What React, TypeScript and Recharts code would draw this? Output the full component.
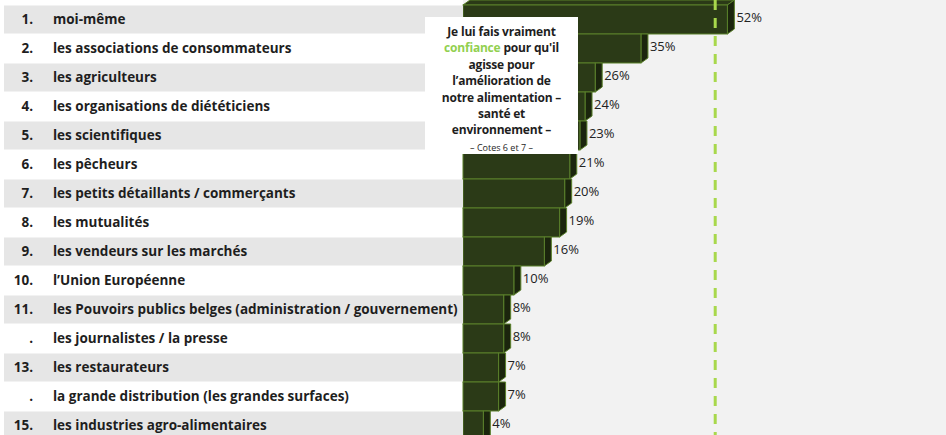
import { BarChart, Bar, XAxis, YAxis, LabelList, ReferenceLine } from 'recharts'

const RANKS = ['1.', '2.', '3.', '4.', '5.', '6.', '7.', '8.', '9.', '10.', '11.', '.', '13.', '.', '15.']
const LABELS = [
  'moi-même',
  'les associations de consommateurs',
  'les agriculteurs',
  'les organisations de diététiciens',
  'les scientifiques',
  'les pêcheurs',
  'les petits détaillants / commerçants',
  'les mutualités',
  'les vendeurs sur les marchés',
  'l’Union Européenne',
  'les Pouvoirs publics belges (administration / gouvernement)',
  'les journalistes / la presse',
  'les restaurateurs',
  'la grande distribution (les grandes surfaces)',
  'les industries agro-alimentaires',
]
const VALUES = [52, 35, 26, 24, 23, 21, 20, 19, 16, 10, 8, 8, 7, 7, 4]
const MARKER = 50

const data = LABELS.map((label, i) => ({ label, rank: RANKS[i], value: VALUES[i], first: i === 0 }))

const FONT = '"Open Sans", "Noto Sans", sans-serif'
const W = 946
const H = 435
const LEFT = 463
const ROW = 29

function RowTick({ y, payload, index }: any) {
  const i = payload?.index ?? index
  return (
    <g>
      {i % 2 === 0 && <rect x={4} y={y - ROW / 2 + 0.5} width={LEFT - 4} height={ROW - 1} fill="#e6e6e6" />}
      <text x={33} y={y} dy={4.5} textAnchor="end" fontSize={13.5} fontWeight={700} fill="#1e1e1e" fontFamily={FONT}>{RANKS[i]}</text>
      <text x={53} y={y} dy={4.5} fontSize={13.5} fontWeight={700} fill="#1e1e1e" fontFamily={FONT}>{payload.value}</text>
    </g>
  )
}

function Bar3D({ x, y, width, height, payload }: any) {
  const d = 7, e = 5
  const r = x + width
  return (
    <g>
      {payload?.first && (
        <polygon points={`${x},${y} ${x + d},${y - e} ${r + d},${y - e} ${r},${y}`} fill="#2b3a17" stroke="#5a802b" strokeWidth={1} />
      )}
      <polygon
        points={payload?.first
          ? `${r},${y} ${r + d},${y - e} ${r + d},${y + height - e} ${r},${y + height}`
          : `${r},${y} ${r + d},${y} ${r + d},${y + height - e} ${r},${y + height}`}
        fill="#1b250d" stroke="#5a802b" strokeWidth={1}
      />
      <rect x={x} y={y} width={width} height={height} fill="#2b3a17" stroke="#5a802b" strokeWidth={1} />
    </g>
  )
}

export default function App() {
  return (
    <div style={{ position: 'absolute', left: 0, top: 0, width: W, height: H, overflow: 'hidden', background: '#fff' }}>
      <div style={{ position: 'absolute', left: LEFT, top: 0, width: W - LEFT, height: H, background: '#f2f2f2' }} />
      <div style={{ position: 'absolute', left: 0, top: 0 }}>
        <BarChart width={W} height={445} data={data} layout="vertical" barCategoryGap={0} margin={{ top: 5, right: 0, bottom: 5, left: 0 }}>
          <XAxis type="number" domain={[0, 95]} hide />
          <YAxis type="category" dataKey="label" width={LEFT} tick={<RowTick />} tickLine={false} axisLine={false} interval={0} />
          <Bar dataKey="value" shape={<Bar3D />} isAnimationActive={false}>
            <LabelList
              dataKey="value"
              content={(p: any) => (
                <text x={p.x + p.width + 9} y={p.y + p.height / 2} dy={2} fontSize={13} fill="#222" fontFamily={FONT}>{p.value}%</text>
              )}
            />
          </Bar>
          <ReferenceLine
            x={MARKER}
            shape={(p: any) => <line x1={p.x1 - 2} x2={p.x2 - 2} y1={0} y2={H} stroke="#a8d84c" strokeWidth={3} strokeDasharray="10 8" />}
          />
        </BarChart>
      </div>
      <div style={{
        position: 'absolute', left: 425, top: 17, width: 153, height: 137, background: '#fff',
        fontFamily: FONT, fontWeight: 700, fontSize: 12, lineHeight: '16.4px', color: '#1e1e1e',
        textAlign: 'center', paddingTop: 7, boxSizing: 'border-box', letterSpacing: -0.2,
      }}>
        Je lui fais vraiment<br />
        <span style={{ color: '#92d050' }}>confiance</span> pour qu'il<br />
        agisse pour<br />
        l’amélioration de<br />
        notre alimentation –<br />
        santé et<br />
        environnement –<br />
        <span style={{ fontWeight: 400, fontSize: 9, letterSpacing: 0 }}>– Cotes 6 et 7 –</span>
      </div>
    </div>
  )
}
